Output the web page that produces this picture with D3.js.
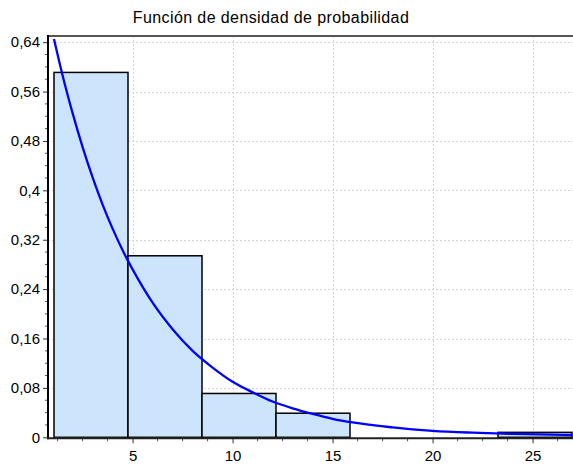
<!DOCTYPE html>
<html>
<head>
<meta charset="utf-8">
<script src="https://cdn.jsdelivr.net/npm/d3@7"></script>
<style>
  html, body { margin: 0; padding: 0; background: #fff; }
  svg { display: block; font-family: "Liberation Sans", Arial, sans-serif; }
</style>
</head>
<body>
<svg id="chart" width="573" height="465"></svg>
<script>
// Histogram bins (edges) and relative frequency per bin
const binEdges = [1.07, 4.77, 8.47, 12.17, 15.87, 19.57, 23.27, 26.97];
const binFreq = [0.591, 0.294, 0.071, 0.039, 0, 0, 0.008];

// Fitted density curve, sampled points (x, scaled density)
const curveX = [1.07, 1.5, 2, 2.5, 3, 3.5, 4, 4.5, 4.75, 5, 6, 7, 8, 9, 10, 11, 12, 13, 14, 15, 16, 18, 20, 22, 24, 26, 27];
const curveY = [0.645, 0.586, 0.525, 0.470, 0.421, 0.377, 0.338, 0.303, 0.287, 0.272, 0.218, 0.175, 0.140, 0.113, 0.090, 0.073, 0.058, 0.047, 0.038, 0.030, 0.024, 0.016, 0.0105, 0.0075, 0.0055, 0.0042, 0.0037];

// Axis ticks
const xTicks = [5, 10, 15, 20, 25];
const yTicks = [0, 0.08, 0.16, 0.24, 0.32, 0.4, 0.48, 0.56, 0.64];

const titleText = "Función de densidad de probabilidad";

const svg = d3.select("#chart");
const plotLeft = 48, plotRight = 572.6, plotTop = 36, plotBottom = 437.3;

const x = d3.scaleLinear().domain([0.77, 27]).range([plotLeft, plotRight]);
const y = d3.scaleLinear().domain([0, 0.65]).range([plotBottom, plotTop]);

const locale = d3.formatLocale({ decimal: ",", thousands: ".", grouping: [3], currency: ["", " €"] });
const fmt = locale.format(".2~f");

// Grid lines (dotted)
const grid = svg.append("g").attr("stroke", "#d4d4d4").attr("stroke-width", 1).attr("stroke-dasharray", "2,2");
grid.selectAll("line.v").data(xTicks).join("line")
  .attr("x1", d => Math.round(x(d)) + 0.5).attr("x2", d => Math.round(x(d)) + 0.5)
  .attr("y1", plotTop).attr("y2", plotBottom);
grid.selectAll("line.h").data(yTicks.filter(d => d > 0)).join("line")
  .attr("x1", plotLeft).attr("x2", 573)
  .attr("y1", d => Math.round(y(d)) + 0.5).attr("y2", d => Math.round(y(d)) + 0.5);

// Histogram bars
const bins = binFreq.map((f, i) => ({ x0: binEdges[i], x1: binEdges[i + 1], f }));
svg.append("g").selectAll("rect").data(bins).join("rect")
  .attr("x", d => x(d.x0))
  .attr("y", d => y(d.f))
  .attr("width", d => x(d.x1) - x(d.x0))
  .attr("height", d => y(0) - y(d.f))
  .attr("fill", "#cce5fc")
  .attr("stroke", d => d.f > 0 ? "#000" : "#aaa")
  .attr("stroke-width", 1.5);

// Density curve
svg.append("clipPath").attr("id", "plotclip")
  .append("rect").attr("x", plotLeft).attr("y", plotTop).attr("width", 573 - plotLeft).attr("height", plotBottom - plotTop);
const line = d3.line().x(d => x(d[0])).y(d => y(d[1])).curve(d3.curveMonotoneX);
svg.append("path")
  .datum(curveX.map((v, i) => [v, curveY[i]]))
  .attr("clip-path", "url(#plotclip)")
  .attr("d", line)
  .attr("fill", "none")
  .attr("stroke", "#0000ff")
  .attr("stroke-width", 2.3);

// Top frame line
svg.append("line").attr("x1", plotLeft).attr("x2", 573).attr("y1", plotTop).attr("y2", plotTop)
  .attr("stroke", "#555").attr("stroke-width", 2);

// Y axis
const yAxis = d3.axisLeft(y).tickValues(yTicks).tickFormat(fmt).tickSize(5).tickPadding(3);
const gy = svg.append("g").attr("transform", `translate(${plotLeft},0)`).call(yAxis);
gy.select(".domain").remove();
gy.selectAll(".tick line").attr("stroke", "#333");
gy.selectAll(".tick text").attr("font-size", 15).attr("fill", "#000").attr("font-family", "Liberation Sans, Arial, sans-serif");
// minor y ticks
const yMinor = d3.range(0, 0.65, 0.02).filter(v => !yTicks.some(t => Math.abs(t - v) < 1e-6));
svg.append("g").selectAll("line").data(yMinor).join("line")
  .attr("x1", plotLeft - 3).attr("x2", plotLeft)
  .attr("y1", d => y(d)).attr("y2", d => y(d))
  .attr("stroke", "#555");
svg.append("line").attr("x1", plotLeft).attr("x2", plotLeft).attr("y1", plotTop - 1).attr("y2", plotBottom + 2)
  .attr("stroke", "#000").attr("stroke-width", 2);

// X axis
const xAxis = d3.axisBottom(x).tickValues(xTicks).tickFormat(d3.format("d")).tickSize(5).tickPadding(7);
const gx = svg.append("g").attr("transform", `translate(0,${plotBottom + 1})`).call(xAxis);
gx.select(".domain").remove();
gx.selectAll(".tick line").attr("stroke", "#333");
gx.selectAll(".tick text").attr("font-size", 15).attr("fill", "#000").attr("font-family", "Liberation Sans, Arial, sans-serif");
const xMinor = d3.range(1.25, 27, 1.25).filter(v => !xTicks.some(t => Math.abs(t - v) < 1e-6));
svg.append("g").selectAll("line").data(xMinor).join("line")
  .attr("x1", d => x(d)).attr("x2", d => x(d))
  .attr("y1", plotBottom + 1).attr("y2", plotBottom + 4)
  .attr("stroke", "#555");
svg.append("line").attr("x1", plotLeft - 1).attr("x2", 573).attr("y1", plotBottom + 1).attr("y2", plotBottom + 1)
  .attr("stroke", "#222").attr("stroke-width", 2);

// Title
svg.append("text").attr("x", 271).attr("y", 23).attr("text-anchor", "middle")
  .attr("font-size", 16).attr("letter-spacing", 0.4).attr("fill", "#000").text(titleText);
</script>
</body>
</html>
